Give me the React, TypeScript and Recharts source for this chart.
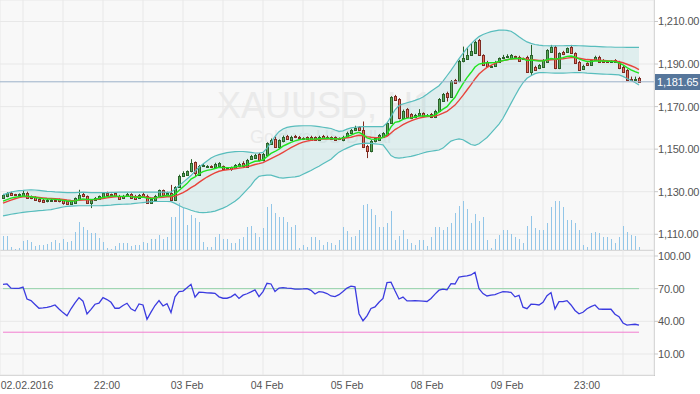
import { ComposedChart, Bar, Line, Area, XAxis, YAxis, CartesianGrid, ReferenceLine } from "recharts";

// XAUUSD H1 candles, one entry per hour bar
const opens = [
  1127.0, 1127.8, 1129.6, 1128.8, 1128.7, 1128.1, 1129.6, 1127.8, 1127.5, 1126.7,
  1126.2, 1125.4, 1125.6, 1126.1, 1126.5, 1126.0, 1125.4, 1124.3, 1124.9, 1126.7,
  1129.0, 1127.8, 1124.6, 1126.2, 1126.7, 1127.5, 1129.6, 1128.8, 1129.3, 1128.1,
  1127.0, 1127.8, 1128.9, 1128.1, 1127.0, 1129.0, 1128.2, 1124.9, 1126.2, 1127.8,
  1130.6, 1128.1, 1129.6, 1126.2, 1132.2, 1137.5, 1138.0, 1139.5, 1143.8, 1137.9,
  1142.2, 1142.3, 1142.2, 1141.4, 1141.9, 1141.9, 1141.1, 1141.4, 1141.1, 1141.9,
  1143.7, 1141.5, 1145.3, 1145.8, 1147.8, 1144.7, 1147.3, 1152.5, 1154.7, 1151.2,
  1153.6, 1156.3, 1154.4, 1156.3, 1155.9, 1155.3, 1155.6, 1155.9, 1155.6, 1154.4,
  1156.3, 1155.9, 1155.6, 1155.6, 1155.2, 1154.1, 1155.9, 1157.8, 1159.1, 1160.3,
  1159.1, 1151.5, 1148.9, 1153.6, 1154.4, 1155.9, 1156.7, 1162.2, 1175.0, 1173.5,
  1164.5, 1168.8, 1166.4, 1165.0, 1166.0, 1166.9, 1166.1, 1166.6, 1165.0, 1168.1,
  1172.8, 1176.6, 1174.7, 1182.5, 1181.8, 1191.2, 1192.5, 1194.3, 1195.1, 1201.3,
  1194.3, 1191.1, 1189.1, 1189.1, 1190.9, 1192.7, 1193.7, 1192.7, 1193.6, 1193.5,
  1192.7, 1193.5, 1186.4, 1188.8, 1188.0, 1188.8, 1191.1, 1195.8, 1198.2, 1188.0,
  1195.8, 1195.6, 1198.2, 1195.1, 1191.1, 1187.7, 1190.4, 1189.6, 1191.9, 1193.5,
  1191.9, 1191.4, 1191.3, 1191.9, 1191.1, 1188.8, 1187.2, 1182.9, 1182.8, 1183.3,
];
const highs = [
  1129.0, 1129.8, 1130.0, 1129.0, 1129.2, 1130.6, 1130.0, 1128.2, 1127.9, 1127.0,
  1126.6, 1126.6, 1126.8, 1126.5, 1126.8, 1126.3, 1125.7, 1125.7, 1127.3, 1130.9,
  1129.4, 1128.2, 1126.6, 1127.5, 1128.2, 1129.7, 1130.0, 1129.1, 1129.6, 1128.5,
  1128.5, 1129.4, 1129.3, 1128.5, 1128.9, 1129.6, 1128.6, 1126.9, 1128.5, 1131.0,
  1131.0, 1130.0, 1133.2, 1132.6, 1138.0, 1139.6, 1140.0, 1145.3, 1144.2, 1142.6,
  1143.2, 1142.5, 1142.4, 1143.6, 1143.9, 1142.3, 1141.6, 1141.8, 1143.0, 1143.6,
  1144.3, 1145.4, 1147.3, 1147.8, 1148.2, 1148.2, 1153.2, 1155.0, 1155.9, 1154.6,
  1156.4, 1156.7, 1156.3, 1156.7, 1156.2, 1155.6, 1156.0, 1156.3, 1156.0, 1156.3,
  1156.7, 1156.3, 1156.0, 1156.0, 1155.5, 1156.3, 1158.2, 1159.5, 1161.0, 1160.8,
  1163.0, 1152.0, 1154.3, 1155.6, 1157.1, 1158.0, 1162.6, 1174.9, 1175.5, 1174.0,
  1168.6, 1169.3, 1166.9, 1166.6, 1168.8, 1167.3, 1166.5, 1167.0, 1168.5, 1174.0,
  1176.4, 1177.0, 1182.5, 1183.0, 1192.0, 1198.2, 1197.4, 1199.8, 1201.0, 1201.8,
  1194.6, 1191.5, 1189.5, 1191.5, 1193.1, 1194.3, 1194.6, 1194.7, 1193.9, 1193.9,
  1193.0, 1193.9, 1199.0, 1189.2, 1190.0, 1192.3, 1197.0, 1199.0, 1198.6, 1195.5,
  1196.2, 1197.8, 1199.0, 1195.5, 1191.5, 1189.7, 1190.8, 1192.3, 1193.9, 1193.9,
  1192.3, 1191.8, 1191.8, 1192.3, 1191.5, 1189.2, 1187.6, 1184.1, 1184.1, 1184.0,
];
const lows = [
  1126.6, 1127.4, 1128.0, 1128.5, 1128.4, 1127.8, 1126.7, 1126.5, 1125.9, 1125.0,
  1124.8, 1125.0, 1125.2, 1125.3, 1125.0, 1123.9, 1123.9, 1124.0, 1124.6, 1126.4,
  1127.4, 1124.2, 1122.3, 1125.8, 1126.4, 1127.2, 1128.0, 1128.4, 1127.5, 1126.3,
  1126.7, 1127.5, 1126.7, 1126.4, 1126.7, 1127.5, 1124.5, 1124.5, 1125.9, 1127.5,
  1128.1, 1127.8, 1125.8, 1125.8, 1131.8, 1137.0, 1137.6, 1139.1, 1137.2, 1137.5,
  1141.9, 1142.0, 1141.8, 1141.1, 1141.5, 1140.3, 1140.7, 1139.8, 1140.7, 1141.5,
  1141.5, 1141.2, 1144.9, 1145.4, 1144.3, 1144.3, 1146.9, 1152.0, 1150.8, 1150.8,
  1153.2, 1154.3, 1154.0, 1155.2, 1155.5, 1154.9, 1154.3, 1154.0, 1154.0, 1154.0,
  1154.9, 1155.5, 1154.3, 1154.0, 1154.7, 1153.7, 1155.5, 1157.4, 1158.7, 1158.7,
  1150.5, 1145.8, 1148.5, 1153.2, 1154.0, 1155.5, 1156.3, 1161.8, 1172.7, 1164.0,
  1164.1, 1164.6, 1164.1, 1164.6, 1165.6, 1165.2, 1165.7, 1164.6, 1164.6, 1167.7,
  1172.4, 1172.4, 1174.3, 1180.9, 1181.4, 1190.8, 1192.0, 1193.9, 1194.7, 1194.0,
  1189.2, 1188.7, 1188.8, 1188.7, 1190.5, 1192.3, 1193.3, 1192.3, 1193.1, 1191.2,
  1192.2, 1186.0, 1184.9, 1186.8, 1187.6, 1188.4, 1190.7, 1195.4, 1187.6, 1187.6,
  1194.2, 1195.2, 1194.7, 1190.0, 1186.8, 1187.3, 1189.2, 1189.2, 1191.5, 1190.7,
  1190.7, 1190.9, 1190.9, 1190.5, 1187.6, 1186.0, 1182.1, 1182.4, 1182.4, 1181.3,
];
const closes = [
  1128.5, 1129.3, 1128.4, 1128.7, 1128.8, 1129.6, 1127.0, 1126.9, 1126.2, 1125.4,
  1125.1, 1126.1, 1126.2, 1125.8, 1125.4, 1124.6, 1124.2, 1125.4, 1127.0, 1128.3,
  1127.8, 1124.6, 1126.2, 1127.1, 1127.8, 1129.3, 1128.4, 1128.7, 1127.8, 1126.7,
  1128.1, 1128.7, 1127.0, 1126.7, 1128.5, 1127.8, 1124.9, 1126.5, 1128.1, 1130.6,
  1128.5, 1129.6, 1126.2, 1132.2, 1137.5, 1138.7, 1139.5, 1143.4, 1138.7, 1142.2,
  1142.5, 1142.3, 1142.1, 1143.1, 1143.4, 1140.6, 1141.1, 1140.6, 1142.6, 1143.1,
  1141.9, 1145.0, 1146.6, 1147.3, 1144.7, 1147.8, 1152.8, 1154.4, 1151.2, 1154.1,
  1155.9, 1154.7, 1155.9, 1155.6, 1155.8, 1155.2, 1154.7, 1154.4, 1154.4, 1155.9,
  1155.3, 1155.8, 1154.7, 1154.4, 1155.1, 1155.9, 1157.8, 1159.1, 1159.9, 1159.1,
  1151.2, 1148.9, 1153.9, 1155.2, 1156.7, 1157.5, 1162.2, 1174.4, 1173.1, 1164.5,
  1168.1, 1165.0, 1164.5, 1166.1, 1166.9, 1165.6, 1166.1, 1165.0, 1168.1, 1173.6,
  1176.0, 1174.7, 1182.1, 1181.3, 1191.5, 1192.7, 1194.3, 1196.3, 1200.5, 1194.3,
  1189.6, 1189.1, 1189.2, 1191.1, 1192.7, 1193.5, 1193.8, 1194.3, 1193.5, 1191.6,
  1192.6, 1186.4, 1194.3, 1187.2, 1189.6, 1191.9, 1196.6, 1198.2, 1188.0, 1195.1,
  1194.6, 1197.4, 1195.1, 1190.4, 1187.2, 1189.3, 1189.6, 1191.9, 1193.5, 1191.1,
  1191.1, 1191.3, 1191.4, 1190.9, 1188.0, 1186.4, 1182.5, 1182.8, 1182.9, 1181.65,
];
const volume = [
  14, 14, 3, 1, 2, 9, 10, 8, 4, 5,
  5, 6, 8, 10, 7, 11, 8, 9, 18, 28,
  23, 20, 17, 17, 12, 8, 2, 1, 4, 7,
  7, 7, 4, 5, 5, 8, 7, 11, 11, 15,
  11, 13, 33, 33, 47, 42, 25, 35, 32, 28,
  8, 3, 3, 13, 16, 11, 11, 7, 7, 11,
  13, 23, 24, 17, 13, 22, 43, 46, 37, 33,
  33, 28, 23, 25, 2, 5, 3, 13, 13, 10,
  5, 8, 7, 5, 10, 23, 19, 13, 14, 20,
  45, 46, 41, 35, 23, 23, 27, 39, 10, 14,
  20, 11, 7, 5, 10, 10, 4, 13, 23, 23,
  20, 23, 27, 37, 44, 49, 41, 27, 36, 29,
  33, 10, 2, 11, 15, 20, 20, 16, 13, 11,
  7, 24, 34, 22, 20, 20, 27, 43, 49, 49,
  43, 30, 30, 27, 20, 5, 3, 17, 18, 17,
  13, 13, 11, 7, 13, 24, 18, 15, 14, 3,
];
const bbUpper = [
  1128.5, 1129.2, 1129.8, 1130.2, 1130.5, 1130.6, 1130.8, 1130.9, 1130.8, 1130.6,
  1130.4, 1130.2, 1130.1, 1129.9, 1129.8, 1129.7, 1129.6, 1129.6, 1129.6, 1129.7,
  1129.8, 1129.7, 1129.6, 1129.6, 1129.6, 1129.6, 1129.6, 1129.7, 1129.7, 1129.8,
  1129.8, 1129.8, 1129.8, 1129.8, 1129.8, 1129.8, 1129.8, 1129.8, 1129.8, 1129.8,
  1129.8, 1129.7, 1129.8, 1131.2, 1132.8, 1134.4, 1136.0, 1137.6, 1139.7, 1141.5,
  1143.0, 1144.4, 1145.8, 1146.8, 1147.4, 1147.9, 1148.4, 1148.6, 1148.8, 1148.9,
  1148.9, 1148.7, 1148.5, 1148.2, 1148.2, 1148.5, 1150.5, 1153.0, 1156.0, 1158.2,
  1159.5, 1160.2, 1160.6, 1160.8, 1160.9, 1161.0, 1161.0, 1161.0, 1160.8, 1160.6,
  1160.3, 1160.0, 1159.7, 1159.0, 1158.4, 1158.6, 1159.4, 1160.0, 1160.3, 1160.5,
  1160.6, 1160.6, 1160.6, 1160.6, 1160.6, 1160.6, 1162.3, 1165.3, 1168.5, 1170.5,
  1171.2, 1171.8, 1172.3, 1172.9, 1173.6, 1174.5, 1175.8, 1177.2, 1178.5, 1179.8,
  1182.0, 1184.5, 1187.0, 1189.8, 1192.5, 1195.0, 1197.5, 1199.5, 1201.3, 1202.9,
  1203.9, 1204.6, 1205.2, 1205.6, 1205.9, 1206.0, 1205.8, 1205.4, 1204.2, 1202.8,
  1201.5, 1200.4, 1199.7, 1199.2, 1198.9, 1198.7, 1198.6, 1198.5, 1198.5, 1198.6,
  1198.6, 1198.7, 1198.7, 1198.7, 1198.6, 1198.5, 1198.4, 1198.3, 1198.3, 1198.2,
  1198.1, 1198.0, 1198.0, 1197.9, 1197.9, 1197.9, 1197.8, 1197.8, 1197.8, 1197.8,
];
const bbLower = [
  1118.6, 1119.0, 1119.4, 1119.7, 1120.0, 1120.3, 1120.5, 1120.7, 1120.9, 1121.1,
  1121.2, 1121.4, 1121.6, 1122.0, 1122.4, 1122.8, 1123.1, 1123.2, 1123.3, 1123.4,
  1123.4, 1123.4, 1123.4, 1123.4, 1123.4, 1123.5, 1123.6, 1123.7, 1123.9, 1124.0,
  1124.1, 1124.2, 1124.3, 1124.5, 1124.7, 1124.9, 1125.1, 1125.3, 1125.4, 1125.4,
  1125.4, 1125.4, 1125.3, 1124.5, 1123.5, 1122.6, 1122.0, 1121.3, 1120.7, 1120.3,
  1120.2, 1120.3, 1120.5, 1120.9, 1121.6, 1122.3, 1123.2, 1124.3, 1125.5, 1127.0,
  1129.0, 1131.0, 1133.0, 1135.5, 1137.2, 1137.6, 1137.8, 1137.8, 1137.2, 1136.6,
  1136.4, 1136.6, 1136.8, 1137.0, 1137.3, 1138.2, 1139.1, 1140.0, 1141.0, 1142.0,
  1143.1, 1144.2, 1145.3, 1147.0, 1148.6, 1149.6, 1150.5, 1151.3, 1152.1, 1152.5,
  1152.7, 1152.8, 1152.7, 1152.5, 1152.3, 1152.0, 1149.5, 1147.0, 1146.0, 1145.8,
  1146.0, 1146.3, 1146.6, 1147.1, 1147.6, 1148.2, 1148.7, 1149.0, 1149.3, 1149.6,
  1150.5, 1152.2, 1153.8, 1154.4, 1154.8, 1154.4, 1153.3, 1152.2, 1151.8, 1152.5,
  1154.0, 1155.5, 1157.5, 1159.6, 1161.8, 1164.5, 1168.0, 1171.5, 1175.0, 1178.3,
  1181.2, 1183.3, 1184.5, 1185.5, 1186.0, 1186.0, 1185.9, 1185.8, 1185.7, 1185.7,
  1185.7, 1185.8, 1185.9, 1186.0, 1186.0, 1185.9, 1185.7, 1185.6, 1185.5, 1185.4,
  1185.3, 1185.2, 1185.1, 1185.0, 1184.9, 1184.2, 1183.2, 1182.3, 1181.3, 1180.2,
];
const maFast = [
  1125.6, 1126.3, 1127.0, 1127.4, 1127.7, 1128.0, 1127.9, 1127.6, 1127.3, 1127.0,
  1126.7, 1126.6, 1126.5, 1126.4, 1126.2, 1125.9, 1125.6, 1125.5, 1125.7, 1126.2,
  1126.6, 1126.4, 1126.3, 1126.5, 1126.8, 1127.3, 1127.6, 1127.9, 1128.0, 1127.8,
  1127.8, 1127.9, 1127.7, 1127.4, 1127.4, 1127.5, 1127.0, 1126.8, 1127.0, 1127.6,
  1127.9, 1128.2, 1128.0, 1128.9, 1130.6, 1132.2, 1133.8, 1135.9, 1137.0, 1138.4,
  1139.4, 1140.0, 1140.4, 1140.9, 1141.5, 1141.4, 1141.3, 1141.3, 1141.6, 1142.0,
  1142.0, 1142.6, 1143.5, 1144.3, 1144.4, 1145.0, 1146.5, 1148.0, 1148.9, 1150.0,
  1151.4, 1152.3, 1153.2, 1153.9, 1154.4, 1154.7, 1154.8, 1154.8, 1154.7, 1154.9,
  1155.0, 1155.1, 1155.0, 1154.8, 1154.9, 1155.3, 1155.9, 1156.6, 1157.4, 1157.9,
  1156.8, 1155.3, 1154.7, 1154.6, 1154.9, 1155.5, 1157.0, 1160.5, 1162.6, 1163.0,
  1164.0, 1164.6, 1164.7, 1165.1, 1165.5, 1165.6, 1165.7, 1165.6, 1166.1, 1167.4,
  1168.8, 1170.0, 1172.3, 1174.4, 1177.7, 1180.8, 1183.6, 1186.0, 1188.6, 1190.0,
  1190.4, 1190.6, 1190.6, 1190.8, 1191.2, 1191.6, 1192.0, 1192.4, 1192.7, 1192.6,
  1192.5, 1191.6, 1191.9, 1191.6, 1191.4, 1191.5, 1192.0, 1192.6, 1192.3, 1192.6,
  1193.0, 1193.6, 1193.8, 1193.3, 1192.4, 1191.7, 1191.2, 1191.2, 1191.4, 1191.4,
  1191.4, 1191.3, 1191.3, 1191.1, 1190.5, 1189.6, 1188.3, 1187.3, 1186.4, 1185.7,
];
const maSlow = [
  1124.6, 1125.3, 1126.0, 1126.7, 1127.2, 1127.6, 1127.7, 1127.6, 1127.5, 1127.3,
  1127.1, 1126.9, 1126.8, 1126.7, 1126.6, 1126.4, 1126.1, 1125.9, 1125.8, 1125.9,
  1126.1, 1126.2, 1126.2, 1126.3, 1126.5, 1126.8, 1127.1, 1127.4, 1127.6, 1127.7,
  1127.7, 1127.8, 1127.8, 1127.7, 1127.6, 1127.6, 1127.4, 1127.2, 1127.1, 1127.2,
  1127.4, 1127.6, 1127.6, 1127.9, 1128.7, 1129.6, 1130.6, 1131.9, 1133.0, 1134.4,
  1135.7, 1136.9, 1137.9, 1138.8, 1139.6, 1140.0, 1140.3, 1140.5, 1140.8, 1141.1,
  1141.3, 1141.7, 1142.2, 1142.8, 1143.2, 1143.7, 1144.6, 1145.6, 1146.5, 1147.4,
  1148.5, 1149.6, 1150.7, 1151.7, 1152.6, 1153.3, 1153.8, 1154.2, 1154.4, 1154.6,
  1154.7, 1154.8, 1154.9, 1154.9, 1154.9, 1155.0, 1155.3, 1155.6, 1156.1, 1156.5,
  1156.3, 1155.9, 1155.6, 1155.4, 1155.4, 1155.5, 1156.0, 1157.6, 1159.2, 1160.3,
  1161.5, 1162.5, 1163.3, 1164.0, 1164.6, 1165.0, 1165.3, 1165.4, 1165.6, 1166.1,
  1166.9, 1167.8, 1169.2, 1170.7, 1172.9, 1175.3, 1177.8, 1180.3, 1183.0, 1185.3,
  1187.0, 1188.4, 1189.4, 1190.3, 1191.0, 1191.6, 1192.0, 1192.3, 1192.5, 1192.6,
  1192.6, 1192.2, 1192.1, 1191.9, 1191.7, 1191.7, 1191.8, 1192.0, 1192.1, 1192.3,
  1192.5, 1192.8, 1193.0, 1193.0, 1192.7, 1192.4, 1192.1, 1192.0, 1191.9, 1191.8,
  1191.7, 1191.6, 1191.5, 1191.4, 1191.1, 1190.6, 1189.9, 1189.2, 1188.4, 1187.4,
];
const rsi = [
  74.0, 74.3, 70.5, 70.3, 70.3, 71.5, 60.5, 59.0, 55.5, 52.0,
  52.3, 52.8, 53.8, 55.0, 51.4, 48.0, 45.0, 51.5, 57.0, 61.8,
  58.5, 46.8, 51.0, 55.7, 56.6, 61.8, 60.0, 57.5, 52.0, 52.0,
  54.5, 56.6, 51.5, 49.5, 56.0, 55.0, 41.9, 48.5, 54.5, 59.0,
  54.1, 56.3, 48.0, 62.5, 67.3, 67.8, 70.8, 74.0, 62.1, 66.7,
  66.5, 66.2, 66.0, 65.7, 62.5, 61.2, 61.2, 62.5, 65.0, 61.0,
  64.0, 65.3, 67.0, 68.8, 62.7, 67.3, 74.9, 74.3, 67.3, 70.5,
  70.9, 70.5, 70.2, 69.6, 69.6, 69.8, 70.1, 68.5, 65.1, 67.2,
  66.8, 65.5, 63.3, 62.7, 64.5, 67.3, 70.5, 72.3, 71.6, 47.0,
  40.5, 45.0, 51.8, 53.3, 57.5, 61.0, 75.5, 76.0, 68.0, 60.5,
  62.2, 58.7, 58.8, 59.0, 58.8, 58.5, 58.2, 61.0, 65.0, 68.6,
  69.6, 68.9, 74.6, 74.3, 80.7, 81.3, 81.7, 82.6, 85.0, 70.0,
  65.5, 63.3, 64.0, 64.6, 66.0, 67.3, 67.0, 66.6, 62.5, 63.8,
  53.0, 51.6, 55.7, 55.5, 55.0, 57.5, 63.5, 66.4, 51.4, 58.1,
  58.1, 59.0, 55.0, 50.0, 46.9, 48.3, 51.5, 53.5, 55.0, 51.2,
  51.1, 51.1, 51.1, 46.5, 44.3, 38.5, 36.6, 37.0, 37.3, 36.4,
];

const gridIdx = [5, 15, 25, 35, 45, 55, 65, 75, 85, 95, 105, 115, 125, 135, 145, 155];
const labelIdx = [5, 25, 45, 65, 85, 105, 125, 145];
const labelText = ["02.02.2016", "22:00", "03 Feb", "04 Feb", "05 Feb", "08 Feb", "09 Feb", "23:00"];
const priceTicks = [1110, 1130, 1150, 1170, 1190, 1210];
const rsiTicks = [10, 40, 70, 100];
const lastPrice = 1181.65;

const data = opens.map((o, i) => ({
  t: String(i),
  o,
  h: highs[i],
  l: lows[i],
  c: closes[i],
  hl: [lows[i], highs[i]],
  vol: volume[i],
  band: [bbLower[i], bbUpper[i]],
  up: bbUpper[i],
  lo: bbLower[i],
  fast: maFast[i],
  slow: maSlow[i],
  rsi: rsi[i],
}));

const gridTicks = gridIdx.map(String);
const fmt = (v: number) => v.toLocaleString("en-US", { minimumFractionDigits: 2, maximumFractionDigits: 2 });
const axisTick = { fontSize: 11, fill: "#555", letterSpacing: -0.2 };

function Candle(props: any) {
  const { x, y, width, height, payload } = props;
  const { o, h, l, c } = payload;
  const rising = c >= o;
  const k = h > l ? height / (h - l) : 0;
  const yOf = (v: number) => y + (h - v) * k;
  const cx = Math.round(x + width / 2);
  const top = Math.round(yOf(Math.max(o, c)));
  const bot = Math.round(yOf(Math.min(o, c)));
  const edge = rising ? "#2a622a" : "#7e2b22";
  return (
    <g>
      <line x1={cx + 0.5} x2={cx + 0.5} y1={yOf(h)} y2={yOf(l)} stroke={edge} strokeWidth={1} />
      <rect
        x={cx - 0.5}
        y={top + 0.5}
        width={2}
        height={Math.max(bot - top, 1)}
        fill={rising ? "#5aa95a" : "#e8735f"}
        stroke={edge}
        strokeWidth={1}
      />
    </g>
  );
}

function VolBar(props: any) {
  const { x, y, width, height } = props;
  if (!height) return <g />;
  return <rect x={Math.round(x + width / 2)} y={y} width={1} height={height} fill="#93c6e8" />;
}

function XTick(props: any) {
  const { x, y, payload } = props;
  const k = labelIdx.indexOf(Number(payload.value));
  if (k < 0) return <g />;
  return (
    <text x={x + 4} y={y + 14} textAnchor="middle" fontSize={10.5} fill="#555">
      {labelText[k]}
    </text>
  );
}

function PriceTag(props: any) {
  const { x, y, width } = props.viewBox;
  const left = x + width + 1;
  return (
    <g>
      <rect x={left} y={Math.round(y) - 8} width={46} height={16} fill="#56769b" />
      <text x={left + 2} y={Math.round(y) + 4} fontSize={11} letterSpacing={-0.2} fill="#fff">
        {fmt(lastPrice)}
      </text>
    </g>
  );
}

export default function App() {
  return (
    <div
      style={{
        position: "absolute",
        left: 0,
        top: 0,
        width: 700,
        height: 394,
        background: "#fff",
        fontFamily: "'Liberation Sans', Arial, sans-serif",
        overflow: "hidden",
      }}
    >
      <svg width={700} height={394} style={{ position: "absolute", left: 0, top: 0 }}>
        <rect x={0} y={0} width={654} height={375} fill="#f8f8f8" />
        <text x={217} y={118} fontSize={36} fill="#eaeaea">
          XAUUSD, H1
        </text>
        <text x={250} y={143} fontSize={18} fill="#eaeaea">
          Gold vs US Dollar
        </text>
        <line x1={0} x2={654} y1={250.5} y2={250.5} stroke="#c8c8c8" />
        <line x1={0} x2={654} y1={375.5} y2={375.5} stroke="#c8c8c8" />
        <line x1={654.5} x2={654.5} y1={0} y2={376} stroke="#c8c8c8" />
      </svg>

      <div style={{ position: "absolute", left: 0, top: 0 }}>
        <ComposedChart width={700} height={250} data={data} margin={{ top: 0, right: 0, bottom: 0, left: 0 }}>
          <CartesianGrid stroke="#e8e8e8" />
          <XAxis dataKey="t" scale="band" padding={{ left: 1, right: 13 }} ticks={gridTicks} interval={0} hide />
          <XAxis xAxisId="v" dataKey="t" scale="band" padding={{ left: 1, right: 13 }} hide />
          <YAxis
            orientation="right"
            width={46}
            domain={[1102.6, 1220.1]}
            ticks={priceTicks}
            interval={0}
            axisLine={false}
            tickSize={4}
            tickMargin={0}
            tickLine={{ stroke: "#c8c8c8" }}
            tick={axisTick}
            tickFormatter={fmt}
            allowDataOverflow
          />
          <YAxis yAxisId="vol" hide domain={[0, 250]} />
          <Area dataKey="band" stroke="none" fill="#7ccaca" fillOpacity={0.2} dot={false} activeDot={false} isAnimationActive={false} />
          <Bar xAxisId="v" yAxisId="vol" dataKey="vol" barSize={4} shape={VolBar} isAnimationActive={false} />
          <Line dataKey="up" stroke="#58bdbd" strokeWidth={1.2} dot={false} activeDot={false} isAnimationActive={false} />
          <Line dataKey="lo" stroke="#58bdbd" strokeWidth={1.2} dot={false} activeDot={false} isAnimationActive={false} />
          <Line dataKey="slow" stroke="#e8443c" strokeWidth={1.4} dot={false} activeDot={false} isAnimationActive={false} />
          <Line dataKey="fast" stroke="#1ee41e" strokeWidth={1.4} dot={false} activeDot={false} isAnimationActive={false} />
          <ReferenceLine y={lastPrice} stroke="#9cb1c9" label={(p: any) => <PriceTag viewBox={p.viewBox} />} />
          <Bar dataKey="hl" barSize={4} shape={Candle} isAnimationActive={false} />
        </ComposedChart>
      </div>

      <div style={{ position: "absolute", left: 0, top: 250 }}>
        <ComposedChart width={700} height={144} data={data} margin={{ top: 0, right: 0, bottom: 0, left: 0 }}>
          <CartesianGrid stroke="#e8e8e8" />
          <XAxis
            dataKey="t"
            scale="band"
            padding={{ left: 1, right: 13 }}
            ticks={gridTicks}
            interval={0}
            height={19}
            axisLine={false}
            tickLine={false}
            tickSize={0}
            tickMargin={0}
            tick={XTick}
          />
          <YAxis
            orientation="right"
            width={46}
            domain={[-9.3, 105.5]}
            ticks={rsiTicks}
            interval={0}
            axisLine={false}
            tickSize={4}
            tickMargin={0}
            tickLine={{ stroke: "#c8c8c8" }}
            tick={axisTick}
            tickFormatter={fmt}
          />
          <ReferenceLine segment={[{ x: "0", y: 70 }, { x: "159", y: 70 }]} stroke="#94d3aa" />
          <ReferenceLine segment={[{ x: "0", y: 30 }, { x: "159", y: 30 }]} stroke="#f27fd0" />
          <Line dataKey="rsi" stroke="#3b3be0" strokeWidth={1.3} dot={false} activeDot={false} isAnimationActive={false} />
        </ComposedChart>
      </div>
    </div>
  );
}
